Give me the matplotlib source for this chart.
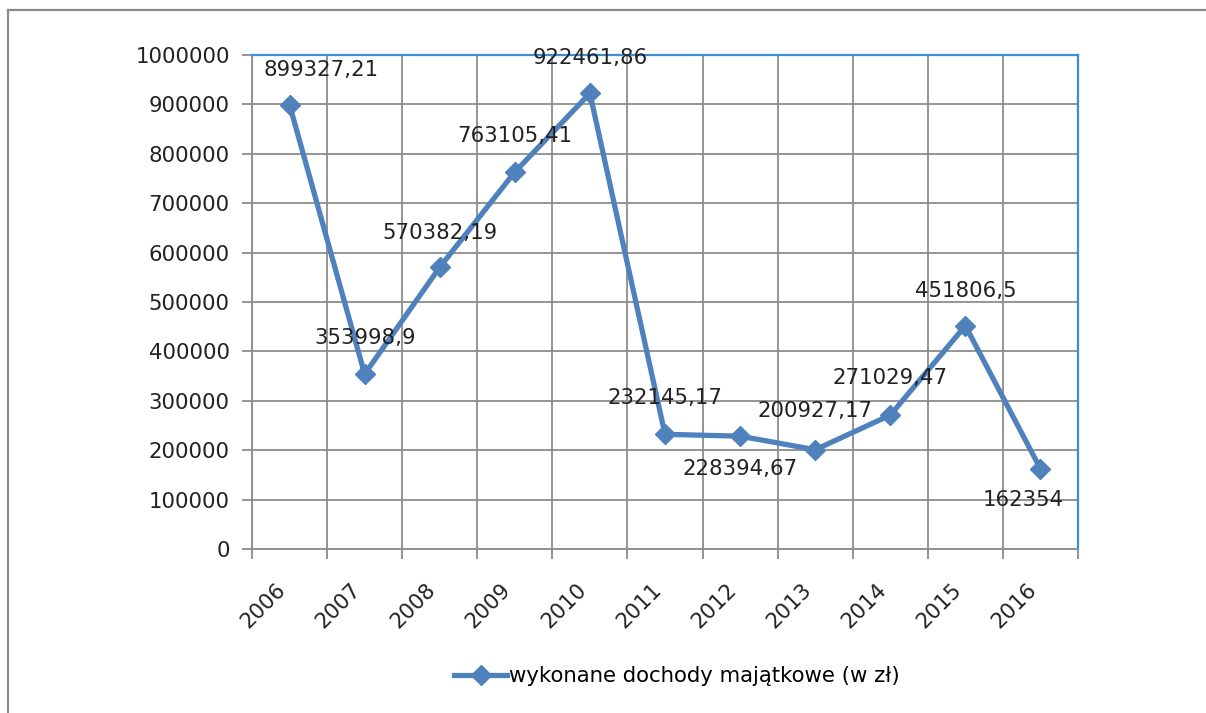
import matplotlib
matplotlib.use('Agg')
import matplotlib.pyplot as plt
import matplotlib.transforms as mtransforms
from matplotlib.lines import Line2D

years = ['2006', '2007', '2008', '2009', '2010', '2011', '2012', '2013', '2014', '2015', '2016']
values = [899327.21, 353998.9, 570382.19, 763105.41, 922461.86, 232145.17,
          228394.67, 200927.17, 271029.47, 451806.5, 162354]
labels = ['899327,21', '353998,9', '570382,19', '763105,41', '922461,86', '232145,17',
          '228394,67', '200927,17', '271029,47', '451806,5', '162354']
# label offsets in pixels (dx, dy)
offsets = [(32, 35), (0, 36), (0, 34), (0, 36), (0, 35), (0, 36),
           (0, -33), (0, 39), (0, 37), (0, 35), (-17, -31)]

line_color = '#4f81bd'
grid_color = '#8c8c8c'
fs = 15.3

plt.rcParams['font.family'] = 'DejaVu Sans'

fig = plt.figure(figsize=(12.06, 7.13), dpi=100)
ax = fig.add_axes([252 / 1206, 1 - 549 / 713, (1078 - 252) / 1206, (549 - 55) / 713])

x = [i + 0.5 for i in range(len(years))]
ax.plot(x, values, color=line_color, lw=3.8, marker='D', markersize=10,
        markeredgecolor=line_color, label='wykonane dochody majątkowe (w zł)', zorder=3)

for xi, v, lab, (dx, dy) in zip(x, values, labels, offsets):
    ax.annotate(lab, (xi, v), xytext=(dx, dy), textcoords='offset pixels',
                ha='center', va='center', fontsize=fs, color='#222222', zorder=4)

ax.set_xlim(0, len(years))
ax.set_ylim(0, 1000000)
ax.set_yticks(range(0, 1000001, 100000))
ax.set_yticklabels([str(v) for v in range(0, 1000001, 100000)], fontsize=fs, color='#222222')
ax.set_xticks(range(len(years) + 1))
ax.set_xticklabels([])
ax.set_xticks(x, minor=True)
ax.set_xticklabels(years, minor=True, rotation=45, ha='right', va='top',
                   rotation_mode='anchor', fontsize=fs, color='#222222')
ax.tick_params(axis='x', which='minor', length=0, pad=22)
ax.tick_params(axis='x', which='major', length=7, width=1.3, color=grid_color)
ax.tick_params(axis='y', length=7, width=1.3, color=grid_color, pad=9)

shift = mtransforms.ScaledTranslation(-14 / 100, 0, fig.dpi_scale_trans)
for t in ax.get_xticklabels(minor=True):
    t.set_transform(t.get_transform() + shift)

ax.grid(True, which='major', color=grid_color, lw=1.3)
ax.set_axisbelow(True)
for side in ['left', 'bottom']:
    ax.spines[side].set_color(grid_color)
    ax.spines[side].set_linewidth(1.3)
for side in ['top', 'right']:
    ax.spines[side].set_color('#3b8fd9')
    ax.spines[side].set_linewidth(1.6)

ax.legend(loc='center', bbox_to_anchor=(677 / 1206, 1 - 676 / 713), bbox_transform=fig.transFigure,
          frameon=False, fontsize=fs, handlelength=2.5, handletextpad=0.1)

# outer chart frame (top and left visible)
fig.add_artist(Line2D([8 / 1206, 8 / 1206], [0, 1 - 10 / 713], transform=fig.transFigure,
                      color='#8a8a8a', lw=1.6))
fig.add_artist(Line2D([8 / 1206, 1], [1 - 10 / 713, 1 - 10 / 713], transform=fig.transFigure,
                      color='#8a8a8a', lw=1.6))

fig.savefig('out.png', dpi=100)
